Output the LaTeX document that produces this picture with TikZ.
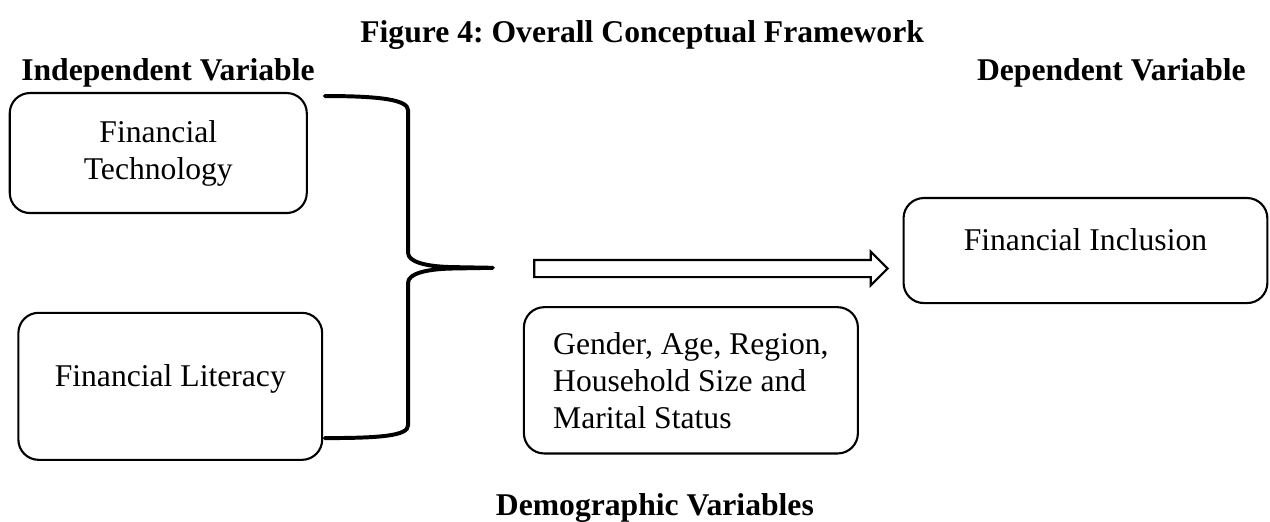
\documentclass[tikz,border=0pt]{standalone}
\usepackage{fontspec}
\setmainfont{Liberation Serif}
\usetikzlibrary{shapes.arrows}
\frenchspacing
\tikzset{
    framework/.style   = {font=\fontsize{12}{14}\selectfont},
    heading/.style     = {font=\fontsize{12}{14}\selectfont\bfseries},
    box/.style         = {draw, line width=0.8pt, rounded corners=0.27cm,
                          align=center},
    brace/.style       = {line width=1.5pt, line join=round, line cap=round},
    hollow arrow/.style = {draw, line width=0.8pt, single arrow,
                          single arrow head extend=0.11cm,
                          single arrow tip angle=90,
                          single arrow head indent=0pt,
                          inner sep=0.1cm, minimum height=4.71cm}
}

\begin{document}
\begin{tikzpicture}[framework]
\useasboundingbox (0,0) rectangle (16.93,-6.95);

% ================= Headings =================
\node[heading, anchor=base] (title) at (8.56,-0.56)
    {Figure 4: Overall Conceptual Framework};
\node[heading, anchor=base west] (indep) at (0.16,-1.07) {Independent Variable};
\node[heading, anchor=base east] (dep) at (16.73,-1.07) {Dependent Variable};

% ================= Independent variables =================
\node[box, minimum width=3.96cm, minimum height=1.6cm] (tech) at (2.11,-2.04)
    {Financial\\Technology};
\node[box, minimum width=4.05cm, minimum height=1.96cm, text depth=0.29cm]
    (lit) at (2.27,-5.15) {Financial Literacy};

% ================= Brace =================
\draw[brace] (4.33,-1.28) .. controls (5.07,-1.28) and (5.44,-1.33) .. (5.44,-1.47)
    -- (5.44,-3.37) .. controls (5.44,-3.49) and (5.67,-3.55) .. (6.00,-3.56)
    -- (6.57,-3.57) -- (6.00,-3.58)
    .. controls (5.67,-3.59) and (5.44,-3.65) .. (5.44,-3.77)
    -- (5.44,-5.67) .. controls (5.44,-5.81) and (5.07,-5.84) .. (4.33,-5.84);

% ================= Flow to dependent variable =================
\node[hollow arrow] (flow) at (9.42,-3.58) {};
\node[box, minimum width=4.85cm, minimum height=1.4cm, text depth=0.29cm]
    (incl) at (14.47,-3.34) {Financial Inclusion};

% ================= Demographic variables =================
\node[box, align=left, inner xsep=0.39cm, minimum height=1.95cm, anchor=west]
    (demo) at (6.97,-5.07) {Gender, Age, Region,\\Household Size and\\Marital Status};
\node[heading, anchor=base] (demovar) at (8.73,-6.87) {Demographic Variables};

\end{tikzpicture}
\end{document}
